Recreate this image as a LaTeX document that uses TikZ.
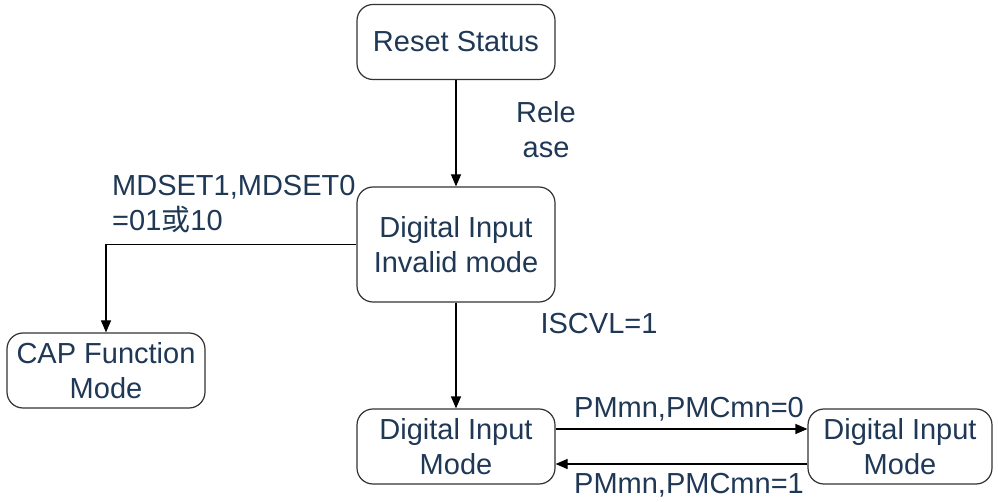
\documentclass[tikz,border=0pt]{standalone}
\usepackage{fontspec}
\setmainfont{Liberation Sans}
\newfontfamily\cjk{Noto Sans CJK SC}
\usetikzlibrary{arrows.meta}
\definecolor{txtblue}{RGB}{31,56,86}
\begin{document}
\begin{tikzpicture}[x=1pt,y=-1pt,
		font=\fontsize{29}{35}\selectfont,
		state/.style={draw=black!80,line width=1.2pt,rounded corners=16pt,minimum height=75pt,text=txtblue,align=center,inner sep=0pt},
		lbl/.style={text=txtblue,align=center,inner sep=0pt},
		flow/.style={-{Triangle[length=12pt,width=10pt]},line width=1.2pt}]
	\useasboundingbox (0,0) rectangle (998,502);
	\node[state,minimum width=198pt] (reset) at (456,42) {Reset Status};
	\node[state,minimum width=198pt,minimum height=115pt] (invalid) at (456,244.5) {Digital Input\\Invalid mode};
	\node[state,minimum width=198pt] (cap) at (106,370.5) {CAP Function\\Mode};
	\node[state,minimum width=198pt] (dim) at (456,446.5) {Digital Input\\Mode};
	\node[state,minimum width=184pt] (dimr) at (900,446.5) {Digital Input\\Mode};
	%labels
	\node[lbl] (rel) at (546,130) {Rele\\ase};
	\node[lbl,align=left,anchor=west] (md) at (112,204) {MDSET1,MDSET0\\=01{\cjk 或}10};
	\node[lbl] (isc) at (599,324) {ISCVL=1};
	\node[lbl] (pm0) at (689,409) {PMmn,PMCmn=0};
	\node[lbl] (pm1) at (689,485) {PMmn,PMCmn=1};
	%arrows
	\draw[flow] (reset)--(invalid);
	\draw[flow] (invalid.west) -| (cap.north);
	\draw[flow] (invalid)--(dim);
	\draw[flow] ([yshift=17.5pt]dim.east)--([yshift=17.5pt]dimr.west);
	\draw[flow] ([yshift=-17.5pt]dimr.west)--([yshift=-17.5pt]dim.east);
\end{tikzpicture}
\end{document}
